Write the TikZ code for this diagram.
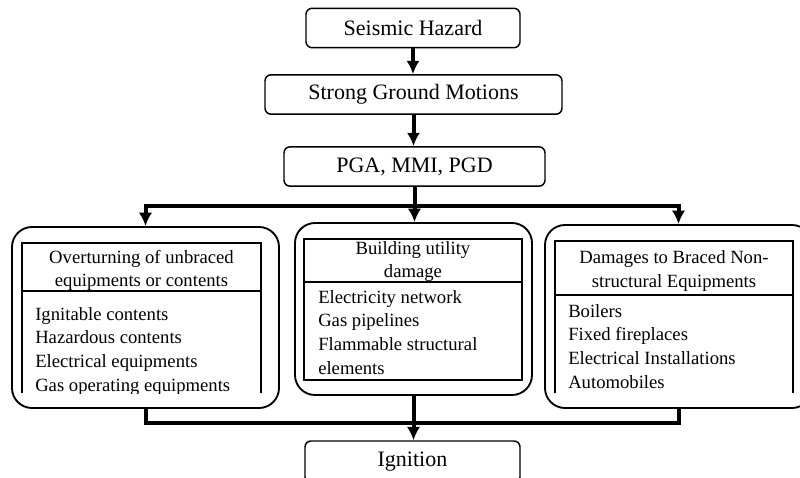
\documentclass[tikz,border=0pt]{standalone}
\usepackage{fontspec}
\setmainfont{Liberation Serif}
\usetikzlibrary{arrows.meta}
\tikzset{
  topbox/.style={draw,rounded corners=4.5pt,line width=1.1pt,minimum height=29.5pt,
    font=\fontsize{16.5}{20}\selectfont},
  outerbox/.style={draw,rounded corners=15pt,line width=1.4pt},
  innerframe/.style={line width=2pt},
  titletext/.style={align=center,font=\fontsize{14}{17.3}\selectfont},
  listtext/.style={align=left,anchor=base west,inner sep=0pt,
    font=\fontsize{14}{17.7}\selectfont},
  link/.style={line width=3pt},
}
\begin{document}
\begin{tikzpicture}[x=0.75pt,y=-0.75pt,>={Latex[length=10pt,width=10pt]}]
\useasboundingbox (0,0) rectangle (800,478);
\clip (0,0) rectangle (800,478);
    % chain at the top
    \node[topbox,minimum width=160.5pt] (haz) at (413,28) {Seismic Hazard};
    \node[topbox,minimum width=222.75pt] (sgm) at (413.5,94.5) {Strong Ground Motions};
    \node[topbox,minimum width=195.75pt] (pga) at (414.5,166.5) {PGA, MMI, PGD};
    % the three groups
    \node[outerbox,minimum width=200.25pt,minimum height=135.75pt] (ov) at (145.5,317.5) {};
    \node[outerbox,minimum width=177.75pt,minimum height=129pt] (bu) at (413.5,309) {};
    \node[outerbox,minimum width=200.25pt,minimum height=137.25pt] (dm) at (678.5,316.5) {};
    \node[topbox,minimum width=161.25pt,minimum height=31.5pt] (ign) at (412.5,462) {Ignition};
    % inner frames
    \draw[innerframe] (22,393) -- (22,243) -- (261,243) -- (261,393);
    \draw[innerframe] (22,291) -- (261,291);
    \draw[innerframe] (304,239) rectangle (522,380);
    \draw[innerframe] (304,282) -- (522,282);
    \draw[innerframe] (555,393) -- (555,241) -- (793,241) -- (793,393);
    \draw[innerframe] (555,295) -- (793,295);
    % titles
    \node[titletext] (ovt) at (141.5,270) {Overturning of unbraced\\equipments or contents};
    \node[titletext] (but) at (413,262) {Building utility\\damage};
    \node[titletext] (dmt) at (674,271) {Damages to Braced Non-\\structural Equipments};
    % lists (anchored at the baseline of the last line)
    \begin{scope}
    \clip (22,243) rectangle (261,393);
    \node[listtext] (ovl) at (35,391) {Ignitable contents\\Hazardous contents\\Electrical equipments\\Gas operating equipments};
    \end{scope}
    \node[listtext] (bul) at (318,374) {Electricity network\\Gas pipelines\\Flammable structural\\elements};
    \begin{scope}
    \clip (555,241) rectangle (793,393);
    \node[listtext] (dml) at (568,388) {Boilers\\Fixed fireplaces\\Electrical Installations\\Automobiles};
    \end{scope}
    % connectors
    \coordinate (jT) at (414,206);
    \coordinate (jB) at (413,423);
    \draw[link,->] (haz.south) -- (haz.south |- sgm.north);
    \draw[link,->] (sgm.south) -- (sgm.south |- pga.north);
    \draw[link,->] (pga.south) -- (pga.south |- bu.north);
    \draw[link,->] (jT) -| (ov.north);
    \draw[link,->] (jT) -| (dm.north);
    \draw[link] (ov.south) |- (jB);
    \draw[link] (dm.south) |- (jB);
    \draw[link,->] (bu.south) -- (bu.south |- ign.north);
\end{tikzpicture}
\end{document}
